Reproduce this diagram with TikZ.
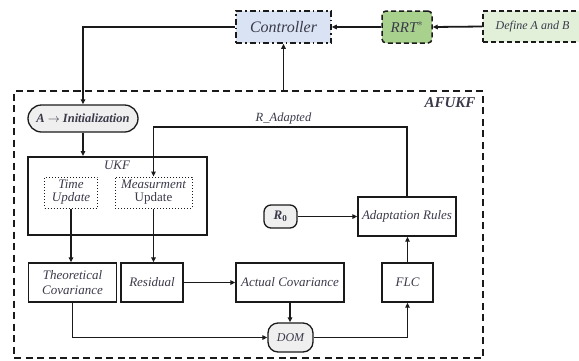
\documentclass[tikz,border=0pt]{standalone}
\usepackage{fontspec}
\setmainfont{Liberation Serif}
\usetikzlibrary{arrows.meta}
\definecolor{txt}{HTML}{3A3A4A}
\definecolor{lc}{HTML}{1A1A1A}
\definecolor{ctrlfill}{HTML}{DAE3F3}
\definecolor{rrtfill}{HTML}{A9D18E}
\definecolor{deffill}{HTML}{E2F0D9}
\definecolor{grayfill}{HTML}{EFEFEF}
\tikzset{
  base/.style={draw=lc, line width=1.3pt, inner sep=0pt, text=txt, align=center,
    font=\fontsize{13}{14}\selectfont\itshape},
  plainbox/.style={base},
  dotbox/.style={base, line width=1pt, dotted},
  pill/.style={base, fill=grayfill},
  conn/.style={draw=lc, line width=1.8pt, -{Triangle[length=5pt,width=4.5pt]}},
}
\begin{document}
\begin{tikzpicture}[x=1pt,y=-1pt]
\useasboundingbox (0,0) rectangle (579,360);
% top row
\node[base, fill=ctrlfill, line width=1.5pt, dash pattern=on 6pt off 3pt on 1.5pt off 3pt, minimum width=95pt, minimum height=32pt,
  font=\fontsize{16}{18}\selectfont\itshape] (ctrl) at (283.5,27) {Controller};
\node[base, fill=rrtfill, line width=1.5pt, dash pattern=on 5pt off 3pt, rounded corners=4pt, minimum width=50pt, minimum height=32pt,
  font=\fontsize{15}{17}\selectfont\itshape] (rrt) at (407,27) {RRT$^{*}$};
\node[base, fill=deffill, line width=1.5pt, dash pattern=on 5pt off 3pt, minimum width=99pt, minimum height=31pt,
  font=\fontsize{12}{14}\selectfont\itshape] (def) at (532.5,26.5) {Define A and B};
% outer AFUKF box
\node[draw=lc, line width=1.8pt, dash pattern=on 7pt off 4.5pt, minimum width=469pt,
  minimum height=267pt, inner sep=0pt] (afukf) at (248.5,224.5) {};
\node[text=txt, font=\fontsize{15}{17}\selectfont\bfseries\itshape, anchor=east] (afukflabel) at (479,103) {AFUKF};
% inner nodes
\node[pill, rounded corners=13.5pt, minimum width=110pt, minimum height=27pt,
  font=\fontsize{12.5}{14}\selectfont\bfseries\itshape] (init) at (83,118.5) {A $\rightarrow$ Initialization};
\node[base, line width=2pt, minimum width=179pt, minimum height=78pt] (ukf) at (117.5,196) {};
\node[text=txt, font=\fontsize{13}{15}\selectfont\itshape] (ukflabel) at (117,165) {UKF};
\node[dotbox, minimum width=53pt, minimum height=31pt] (tu) at (71,192.5) {Time\\[-1pt]Update};
\node[dotbox, minimum width=77pt, minimum height=31pt] (mu) at (153.5,192.5) {Measurment\\[-1pt]\upshape Update};
\node[plainbox, minimum width=88pt, minimum height=39pt] (theo) at (72.5,282.5) {Theoretical\\[1pt]Covariance};
\node[plainbox, minimum width=62pt, minimum height=39pt] (res) at (152,282.5) {Residual};
\node[plainbox, minimum width=108pt, minimum height=39pt] (act) at (290,282.5) {Actual Covariance};
\node[plainbox, minimum width=51pt, minimum height=39pt] (flc) at (407.5,282.5) {FLC};
\node[pill, rounded corners=10pt, minimum width=45pt, minimum height=29pt,
  font=\fontsize{12}{14}\selectfont\itshape] (dom) at (290.5,337.5) {DOM};
\node[pill, rounded corners=7pt, minimum width=33pt, minimum height=23pt,
  font=\fontsize{13}{14}\selectfont\bfseries\itshape] (r0) at (280.5,216.5) {R$_{\mathbf{0}}$};
\node[plainbox, minimum width=98pt, minimum height=39pt] (adapt) at (407,216.5) {Adaptation Rules};
% connectors
\draw[conn] (rrt.west) -- (ctrl.east);
\draw[conn] (def.west) -- (rrt.east);
\draw[conn] (ctrl.west) -| (init.north);
\draw[conn] (ctrl.south |- afukf.north) -- (ctrl.south);
\draw[conn] (init.south) -- (init.south |- ukf.north);
\coordinate (ra) at (407,127);
\draw[conn] (adapt.north) -- (ra) -| (mu.north);
\node[text=txt, font=\fontsize{12.5}{14}\selectfont\itshape] (ralabel) at (283.5,118) {R\_Adapted};
\draw[conn] (tu.south) -- (tu.south |- theo.north);
\draw[conn] (mu.south) -- (mu.south |- res.north);
\draw[conn] (res.east) -- (act.west);
\draw[conn] (act.south) -- (act.south |- dom.north);
\draw[conn] (theo.south) |- (dom.west);
\draw[conn] (dom.east) -| (flc.south);
\draw[conn] (flc.north) -- (flc.north |- adapt.south);
\draw[conn] (r0.east) -- (adapt.west);
\end{tikzpicture}
\end{document}
